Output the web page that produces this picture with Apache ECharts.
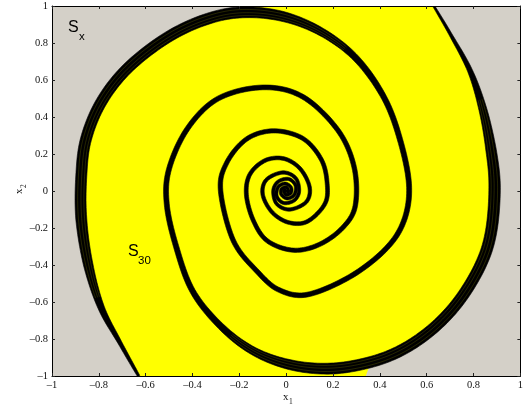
<!DOCTYPE html>
<html>
<head>
<meta charset="utf-8">
<script src="https://cdn.jsdelivr.net/npm/echarts@6/dist/echarts.min.js"></script>
<style>
  html, body { margin: 0; padding: 0; background: #ffffff; }
  #chart { width: 526px; height: 407px; }
</style>
</head>
<body>
<div id="chart"></div>
<script>
// Axis ticks (both axes run from -1 to 1)
const axisTicks = [-1, -0.8, -0.6, -0.4, -0.2, 0, 0.2, 0.4, 0.6, 0.8, 1];

// Trajectory entering through the bottom edge, spiralling clockwise into the origin
const trajA = [
  [-0.63, -1.00], [-0.71, -0.82], [-0.79, -0.63], [-0.845, -0.40], [-0.875, -0.15],
  [-0.875, 0.08], [-0.855, 0.28], [-0.79, 0.48], [-0.68, 0.66], [-0.52, 0.82],
  [-0.36, 0.92], [-0.20, 0.965], [-0.02, 0.945], [0.15, 0.86], [0.30, 0.715],
  [0.42, 0.50], [0.49, 0.26], [0.525, 0.02], [0.50, -0.17], [0.42, -0.32],
  [0.27, -0.465], [0.09, -0.56], [-0.03, -0.535], [-0.12, -0.44], [-0.225, -0.27],
  [-0.28, 0.00], [-0.255, 0.15], [-0.17, 0.28], [-0.055, 0.325], [0.07, 0.285],
  [0.15, 0.17], [0.175, 0.04], [0.165, -0.07], [0.09, -0.165], [0.01, -0.17],
  [-0.06, -0.115], [-0.10, -0.02], [-0.085, 0.06], [-0.015, 0.10], [0.04, 0.07],
  [0.055, 0.00], [0.035, -0.05], [-0.01, -0.065], [-0.04, -0.03], [-0.035, 0.02],
  [-0.005, 0.04], [0.02, 0.02], [0.02, -0.01], [0.00, -0.02], [-0.01, 0.00], [0.00, 0.005]
];

// Trajectory entering through the top edge
const trajB = [
  [0.63, 1.00], [0.70, 0.85], [0.785, 0.65], [0.84, 0.44], [0.875, 0.22],
  [0.89, 0.02], [0.875, -0.22], [0.83, -0.40], [0.74, -0.59], [0.63, -0.74],
  [0.50, -0.855], [0.36, -0.925], [0.19, -0.96], [0.02, -0.94], [-0.14, -0.865],
  [-0.28, -0.73], [-0.40, -0.54], [-0.47, -0.30], [-0.51, -0.07], [-0.50, 0.12],
  [-0.42, 0.34], [-0.29, 0.50], [-0.10, 0.56], [0.07, 0.51], [0.22, 0.33],
  [0.29, 0.13], [0.295, -0.08], [0.24, -0.20], [0.14, -0.29], [0.03, -0.32],
  [-0.08, -0.27], [-0.14, -0.16], [-0.17, -0.02], [-0.155, 0.09], [-0.09, 0.165],
  [-0.01, 0.175], [0.06, 0.12], [0.10, 0.02], [0.085, -0.06], [0.015, -0.10],
  [-0.04, -0.07], [-0.055, 0.00], [-0.035, 0.05], [0.01, 0.065], [0.04, 0.03],
  [0.035, -0.02], [0.005, -0.04], [-0.02, -0.02], [-0.02, 0.01], [0.00, 0.02], [0.01, 0.00], [0.00, -0.005]
];

// Boundary of the set S30
const regionS30 = [
  [-0.63, -1.00], [-0.71, -0.82], [-0.79, -0.63], [-0.85, -0.40], [-0.88, -0.15],
  [-0.88, 0.08], [-0.86, 0.28], [-0.795, 0.48], [-0.685, 0.665], [-0.525, 0.825],
  [-0.36, 0.925], [-0.22, 0.97], [-0.20, 1.00], [0.63, 1.00], [0.70, 0.85],
  [0.785, 0.65], [0.845, 0.44], [0.88, 0.22], [0.895, 0.02], [0.88, -0.22],
  [0.835, -0.40], [0.745, -0.59], [0.635, -0.745], [0.50, -0.86], [0.36, -0.93],
  [0.34, -1.00]
];

const chart = echarts.init(document.getElementById('chart'));

const fmt = v => {
  const r = Math.round(v * 10) / 10;
  return r < 0 ? '\u2013' + String(-r) : String(r);
};

function axis(pos, showLabel) {
  return {
    type: 'value',
    position: pos,
    min: axisTicks[0],
    max: axisTicks[axisTicks.length - 1],
    interval: axisTicks[1] - axisTicks[0],
    z: 10,
    splitLine: { show: false },
    axisLine: { show: true, onZero: false, lineStyle: { color: '#000', width: 1 } },
    axisTick: { show: true, inside: true, length: 3, lineStyle: { color: '#222' } },
    axisLabel: showLabel
      ? { margin: 4, formatter: fmt, fontFamily: 'Liberation Serif', fontSize: 10.5, color: '#111' }
      : { show: false }
  };
}

// Stroke width (px) along a bundle, keyed by point index: the bundle is
// widest on its first turn and tightens towards the origin.
const widthStopsA = [[0, 2.5], [1, 4], [2, 6.5], [3, 9.5], [4, 11], [11, 11], [12, 10], [13, 8],
  [14, 6.5], [15, 5.5], [17, 5], [25, 4.5], [30, 4], [36, 3.5], [40, 3.2], [50, 3]];
const widthStopsB = [[0, 2], [1, 3], [2, 5], [3, 8], [4, 10.5], [5, 11.5], [12, 11], [13, 10], [14, 8],
  [15, 6.5], [16, 5.5], [18, 5], [26, 4.5], [31, 4], [37, 3.5], [41, 3.2], [51, 3]];

function widthAt(stops, t) {
  for (let k = 0; k < stops.length - 1; k++) {
    const [i0, w0] = stops[k], [i1, w1] = stops[k + 1];
    if (t >= i0 && t <= i1) return w0 + (w1 - w0) * (t - i0) / (i1 - i0);
  }
  return stops[stops.length - 1][1];
}

function bez(a, b, c, d, t) {
  const u = 1 - t;
  return [
    u * u * u * a[0] + 3 * u * u * t * b[0] + 3 * u * t * t * c[0] + t * t * t * d[0],
    u * u * u * a[1] + 3 * u * u * t * b[1] + 3 * u * t * t * c[1] + t * t * t * d[1]
  ];
}
function bezD(a, b, c, d, t) {
  const u = 1 - t;
  return [
    3 * u * u * (b[0] - a[0]) + 6 * u * t * (c[0] - b[0]) + 3 * t * t * (d[0] - c[0]),
    3 * u * u * (b[1] - a[1]) + 6 * u * t * (c[1] - b[1]) + 3 * t * t * (d[1] - c[1])
  ];
}

// Draws a trajectory bundle as a filled ribbon of varying width following a
// Catmull-Rom curve through the projected points, with faint strands inside.
function bundleSeries(traj, stops) {
  return {
    type: 'custom',
    coordinateSystem: 'cartesian2d',
    data: [[0, 0]],
    clip: true,
    silent: true,
    z: 3,
    renderItem: (params, api) => {
      const P = traj.map(p => api.coord(p));
      const n = P.length;
      const samples = [];
      const steps = 12;
      for (let i = 0; i < n - 1; i++) {
        const p0 = P[Math.max(i - 1, 0)], p1 = P[i], p2 = P[i + 1], p3 = P[Math.min(i + 2, n - 1)];
        const c1 = [p1[0] + (p2[0] - p0[0]) / 6, p1[1] + (p2[1] - p0[1]) / 6];
        const c2 = [p2[0] - (p3[0] - p1[0]) / 6, p2[1] - (p3[1] - p1[1]) / 6];
        for (let s = (i === 0 ? 0 : 1); s <= steps; s++) {
          const t = s / steps;
          const pt = bez(p1, c1, c2, p2, t);
          const d = bezD(p1, c1, c2, p2, t);
          const len = Math.hypot(d[0], d[1]) || 1;
          samples.push({ pt, nx: -d[1] / len, ny: d[0] / len, w: widthAt(stops, i + t) });
        }
      }
      const left = samples.map(s => [s.pt[0] + s.nx * s.w / 2, s.pt[1] + s.ny * s.w / 2]);
      const right = samples.map(s => [s.pt[0] - s.nx * s.w / 2, s.pt[1] - s.ny * s.w / 2]);
      const children = [{
        type: 'polygon',
        shape: { points: left.concat(right.reverse()) },
        style: { fill: '#000', stroke: '#000', lineWidth: 0.6 }
      }];
      // thin strands inside the widest part of the bundle
      [-0.26, 0.04, 0.3].forEach(f => {
        let run = [];
        const flush = () => {
          if (run.length > 1) {
            children.push({
              type: 'polyline',
              shape: { points: run },
              style: { stroke: 'rgba(150,150,0,0.42)', lineWidth: 0.6, fill: null }
            });
          }
          run = [];
        };
        samples.forEach(s => {
          if (s.w > 7) run.push([s.pt[0] + s.nx * s.w * f, s.pt[1] + s.ny * s.w * f]);
          else flush();
        });
        flush();
      });
      return { type: 'group', children };
    }
  };
}

const textZ = 100;

const option = {
  animation: false,
  grid: {
    left: 52, right: 5, top: 6, bottom: 31,
    show: true, backgroundColor: '#d4d0c8', borderWidth: 0
  },
  xAxis: [axis('bottom', true), axis('top', false)],
  yAxis: [axis('left', true), axis('right', false)],
  series: [
    {
      type: 'custom',
      coordinateSystem: 'cartesian2d',
      data: [[0, 0]],
      clip: true,
      silent: true,
      z: 1,
      renderItem: (params, api) => ({
        type: 'polygon',
        shape: { points: regionS30.map(p => api.coord(p)) },
        style: { fill: '#ffff00', stroke: null }
      })
    },
    bundleSeries(trajA, widthStopsA),
    bundleSeries(trajB, widthStopsB)
  ],
  graphic: [
    { type: 'text', z: textZ, left: 68, top: 20, style: { text: 'S', font: '16px "Liberation Sans"', fill: '#000' } },
    { type: 'text', z: textZ, left: 79, top: 31, style: { text: 'x', font: '11.5px "Liberation Sans"', fill: '#000' } },
    { type: 'text', z: textZ, left: 128, top: 244, style: { text: 'S', font: '16px "Liberation Sans"', fill: '#000' } },
    { type: 'text', z: textZ, left: 138, top: 255, style: { text: '30', font: '11.5px "Liberation Sans"', fill: '#000' } },
    { type: 'text', z: textZ, left: 283, top: 392, style: { text: 'x', font: '11px "Liberation Serif"', fill: '#111' } },
    { type: 'text', z: textZ, left: 289, top: 398, style: { text: '1', font: '7.5px "Liberation Serif"', fill: '#111' } },
    {
      type: 'group', z: textZ, x: 14, y: 194, rotation: Math.PI / 2,
      children: [
        { type: 'text', x: 0, y: 0, style: { text: 'x', font: '11px "Liberation Serif"', fill: '#111' } },
        { type: 'text', x: 6, y: 6, style: { text: '2', font: '7.5px "Liberation Serif"', fill: '#111' } }
      ]
    }
  ]
};

chart.setOption(option);
</script>
</body>
</html>
